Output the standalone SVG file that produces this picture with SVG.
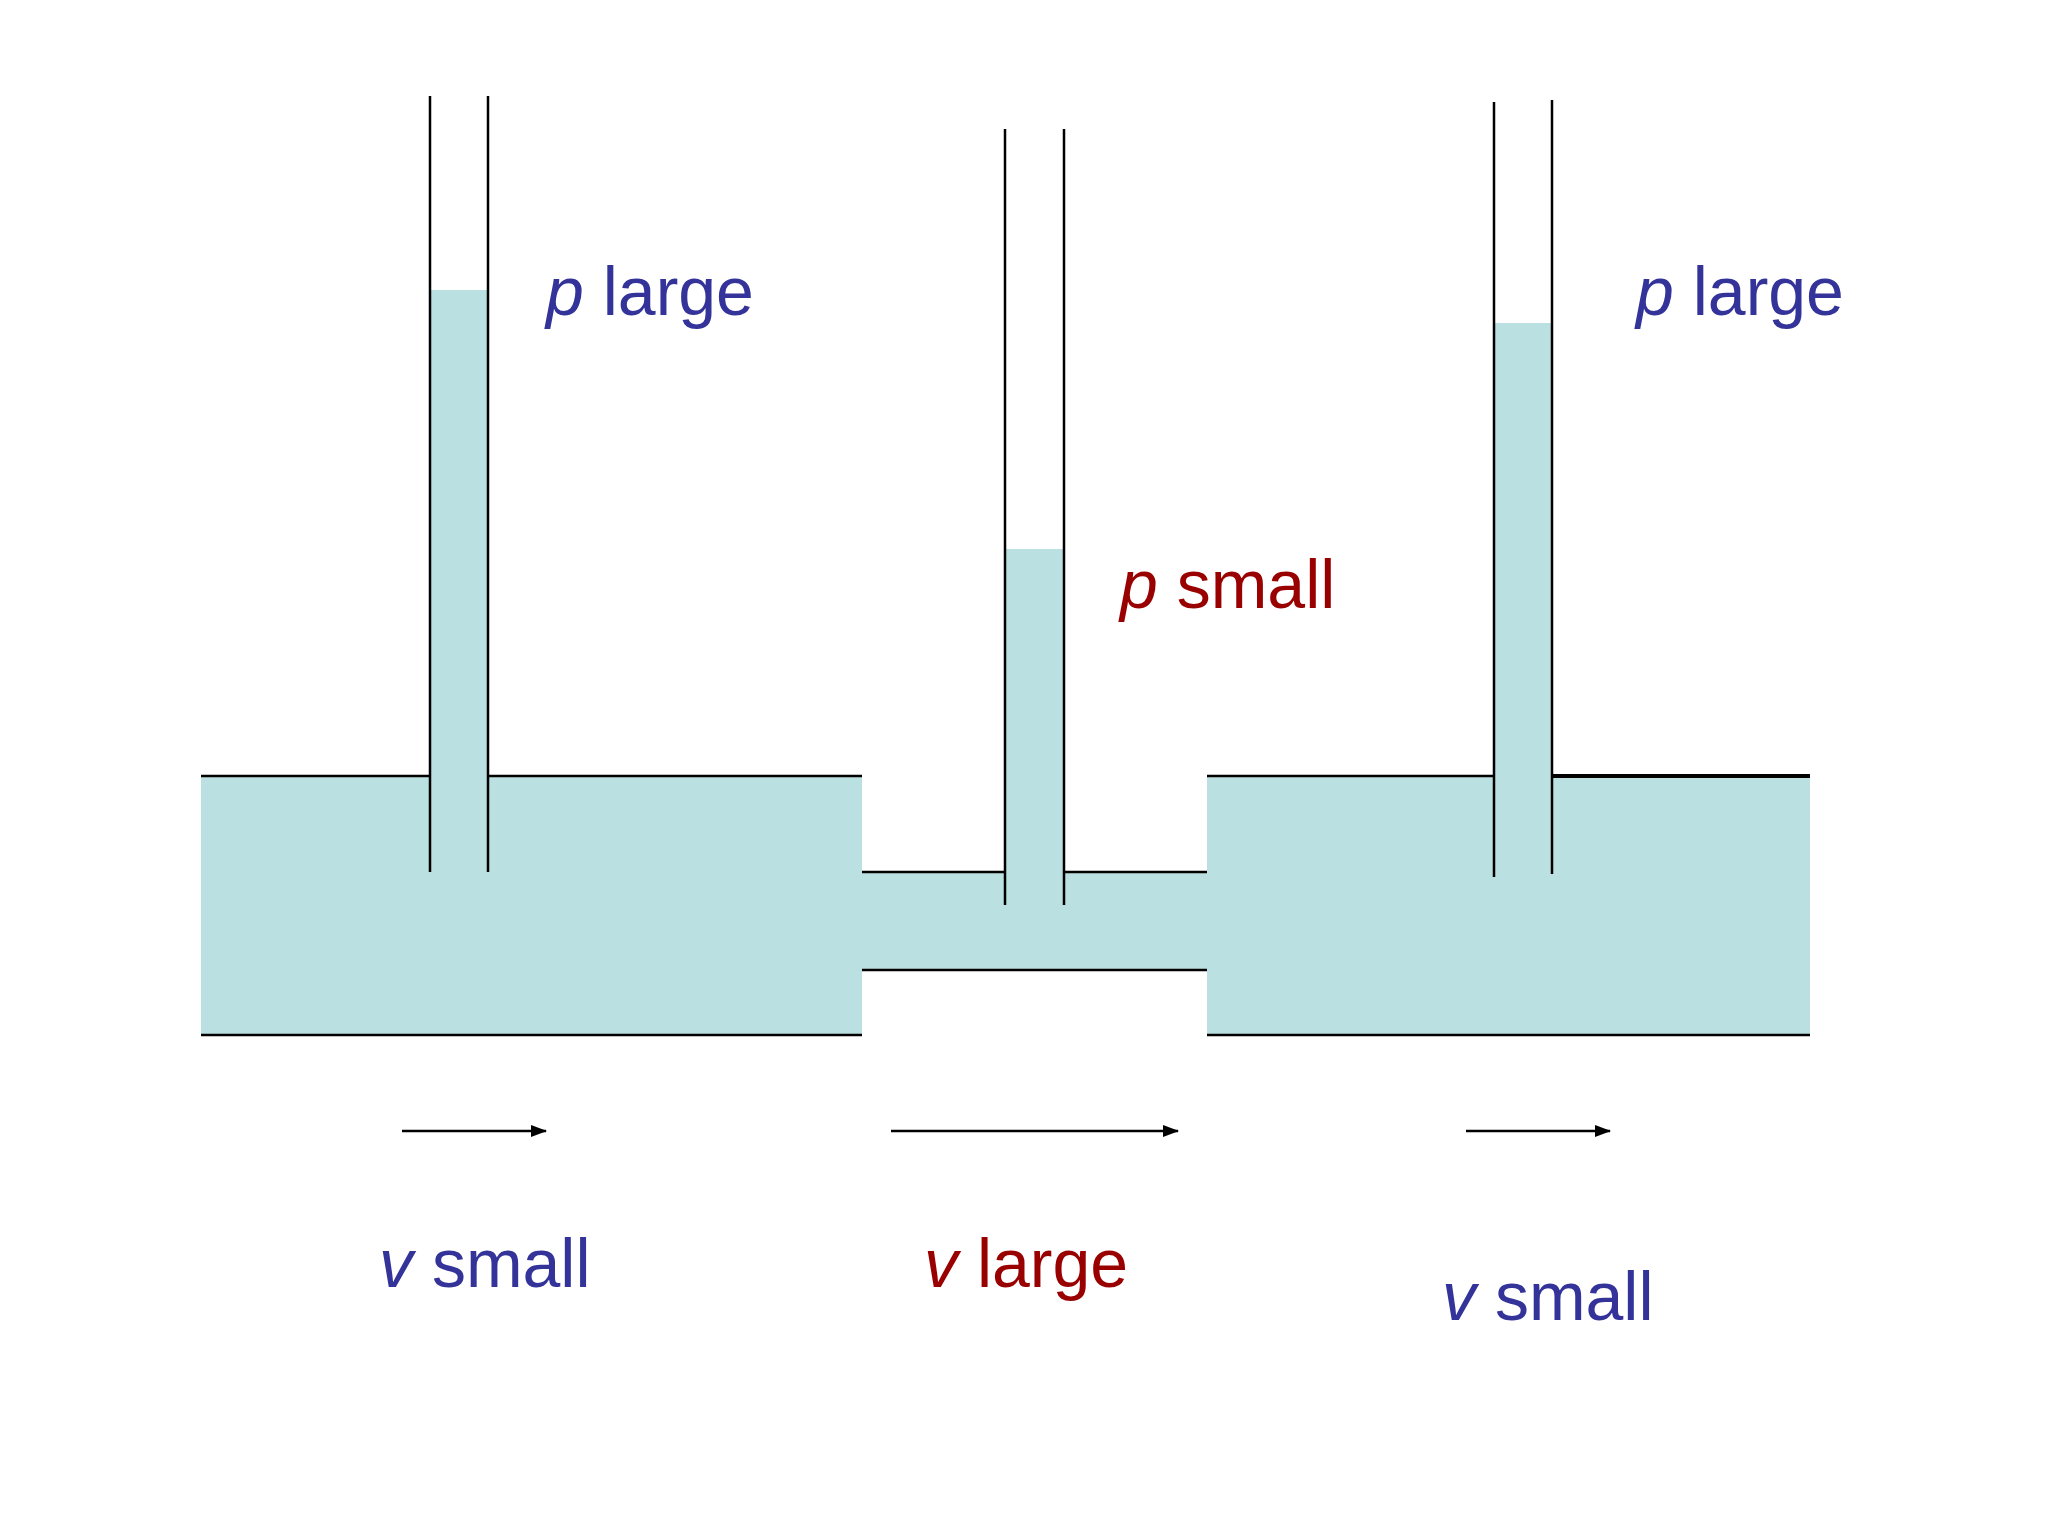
<svg xmlns="http://www.w3.org/2000/svg" width="2048" height="1536" viewBox="0 0 2048 1536">
<style>
.w{fill:#BAE0E2}
.l{stroke:#000;stroke-width:2.5;fill:none}
.t{font-family:"Liberation Sans",Arial,sans-serif;font-size:68px}
.b{fill:#333399}.r{fill:#990000}
</style>
<defs><marker id="a" markerWidth="10" markerHeight="10" refX="9" refY="5" orient="auto" markerUnits="userSpaceOnUse"><path d="M0,0 L14,5 L0,10 Z" fill="#000" transform="scale(0.7,1)"/></marker>
<marker id="ah" markerWidth="16" markerHeight="12" refX="15" refY="6" orient="auto" markerUnits="userSpaceOnUse"><path d="M0,0 L16,6 L0,12 Z" fill="#000"/></marker></defs>
<rect width="2048" height="1536" fill="#fff"/>
<g id="pipe">
<rect class="w" x="201" y="776" width="661" height="259"/>
<rect class="w" x="862" y="872" width="346" height="98"/>
<rect class="w" x="1207" y="776" width="603" height="259"/>
<path class="l" d="M201,776H430M488,776H862M862,872H1005M1064,872H1207M862,970H1207M1207,776H1494M201,1035H862M1207,1035H1810"/>
<path d="M1552,776H1810" stroke="#000" stroke-width="4"/>
</g>
<g id="tube1"><rect class="w" x="430" y="290" width="58" height="590"/><path class="l" d="M430,96V872M488,96V872"/></g>
<g id="tube2"><rect class="w" x="1005" y="549" width="59" height="356"/><path class="l" d="M1005,129V905M1064,129V905"/></g>
<g id="tube3"><rect class="w" x="1494" y="323" width="58" height="553"/><path class="l" d="M1494,102V877M1552,100V874"/></g>
<g id="connectors" stroke="#000" stroke-width="2.5">
<line x1="402" y1="1131" x2="546" y2="1131" marker-end="url(#ah)"/>
<line x1="891" y1="1131" x2="1178" y2="1131" marker-end="url(#ah)"/>
<line x1="1466" y1="1131" x2="1610" y2="1131" marker-end="url(#ah)"/>
</g>
<g id="labels" class="t">
<text x="546" y="315" class="b"><tspan font-style="italic">p</tspan> large</text>
<text x="1120" y="608" class="r"><tspan font-style="italic">p</tspan> small</text>
<text x="1636" y="315" class="b"><tspan font-style="italic">p</tspan> large</text>
<text x="379" y="1287" class="b"><tspan font-style="italic">v</tspan> small</text>
<text x="924" y="1287" class="r"><tspan font-style="italic">v</tspan> large</text>
<text x="1442" y="1320" class="b"><tspan font-style="italic">v</tspan> small</text>
</g>
</svg>
